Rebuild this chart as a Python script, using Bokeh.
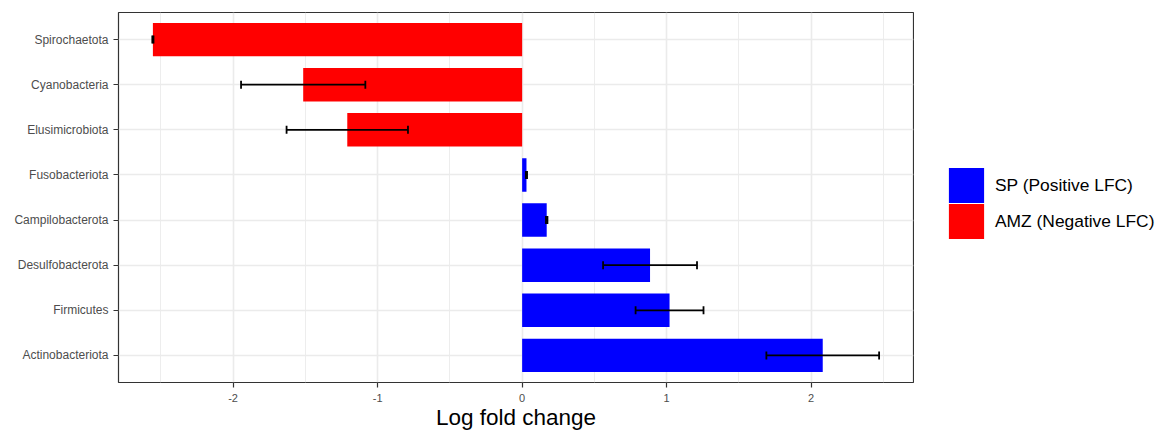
import pandas as pd
from bokeh.plotting import figure
from bokeh.layouts import row
from bokeh.models import (ColumnDataSource, FactorRange, Range1d, FixedTicker,
                          Whisker, TeeHead, Legend, LegendItem)
from bokeh.embed import file_html
from bokeh.resources import INLINE

# ---- data ----
phyla = ["Actinobacteriota", "Firmicutes", "Desulfobacterota", "Campilobacterota",
         "Fusobacteriota", "Elusimicrobiota", "Cyanobacteria", "Spirochaetota"]
lfc = [2.08, 1.02, 0.885, 0.17, 0.03, -1.21, -1.515, -2.555]
se = [0.39, 0.235, 0.325, 0.005, 0.004, 0.42, 0.43, 0.004]
groups = ["SP (Positive LFC)", "AMZ (Negative LFC)"]
group_colors = ["#0000FF", "#FF0000"]
x_ticks = [-2, -1, 0, 1, 2]
x_minor = [-2.5, -1.5, -0.5, 0.5, 1.5, 2.5]

df = pd.DataFrame({"phylum": phyla, "lfc": lfc, "se": se})
df["lower"] = df["lfc"] - df["se"]
df["upper"] = df["lfc"] + df["se"]
pos = ColumnDataSource(df[df["lfc"] > 0])
neg = ColumnDataSource(df[df["lfc"] <= 0])
allsrc = ColumnDataSource(df)

FONT = "Liberation Sans"

p = figure(width=914, height=432, output_backend="svg", toolbar_location=None,
           y_range=FactorRange(factors=phyla, range_padding=0.1, range_padding_units="absolute"),
           x_range=Range1d(-2.793, 2.708),
           min_border_left=118, min_border_right=1, min_border_top=12, min_border_bottom=50)

p.outline_line_color = "#333333"
p.outline_line_width = 1.2
p.background_fill_color = "white"
p.border_fill_color = "white"

r_pos = p.hbar(y="phylum", right="lfc", left=0, height=0.74, source=pos,
               fill_color=group_colors[0], line_color=None)
r_neg = p.hbar(y="phylum", right="lfc", left=0, height=0.74, source=neg,
               fill_color=group_colors[1], line_color=None)

wh = Whisker(base="phylum", lower="lower", upper="upper", dimension="width", source=allsrc,
             line_color="black", line_width=1.8, level="overlay",
             lower_head=TeeHead(size=8, line_color="black", line_width=1.8),
             upper_head=TeeHead(size=8, line_color="black", line_width=1.8))
p.add_layout(wh)

# grids
p.xgrid.ticker = FixedTicker(ticks=x_ticks, minor_ticks=x_minor)
p.xgrid.grid_line_color = "#ebebeb"
p.xgrid.grid_line_width = 1.6
p.xgrid.minor_grid_line_color = "#ebebeb"
p.xgrid.minor_grid_line_width = 0.9
p.ygrid.grid_line_color = "#ebebeb"
p.ygrid.grid_line_width = 1.6

# axes
p.xaxis.ticker = FixedTicker(ticks=x_ticks, minor_ticks=x_minor)
p.xaxis.major_label_overrides = {t: str(t) for t in x_ticks}
for ax in (p.xaxis[0], p.yaxis[0]):
    ax.axis_line_color = None
    ax.major_tick_line_color = "#333333"
    ax.major_tick_line_width = 1.2
    ax.major_tick_out = 5
    ax.major_tick_in = 0
    ax.minor_tick_line_color = None
    ax.major_label_text_color = "#4d4d4d"
    ax.major_label_text_font = FONT
    ax.major_label_text_font_size = "12px"
    ax.major_label_standoff = 5
p.xaxis.major_label_text_font_size = "11px"
p.xaxis.major_label_standoff = 6
p.xaxis.axis_label = "Log fold change"
p.xaxis.axis_label_text_font = FONT
p.xaxis.axis_label_text_font_size = "22.5px"
p.xaxis.axis_label_text_font_style = "normal"
p.xaxis.axis_label_text_color = "black"
p.xaxis.axis_label_standoff = 0

# ---- legend panel (separate figure to the right) ----
# its bars use a factor range that holds none of the data's factors, so they are not drawn
lp = figure(width=250, height=432, output_backend="svg", toolbar_location=None,
            x_range=Range1d(0, 1), y_range=FactorRange(factors=["legend"]),
            x_axis_location=None, y_axis_location=None,
            min_border=0, outline_line_color=None)
lp.grid.visible = False
lp.border_fill_color = "white"
l_pos = lp.hbar(y="phylum", right="lfc", left=0, height=0.74, source=pos,
                fill_color=group_colors[0], line_color=None)
l_neg = lp.hbar(y="phylum", right="lfc", left=0, height=0.74, source=neg,
                fill_color=group_colors[1], line_color=None)

common = dict(glyph_width=44, glyph_height=44, padding=0, margin=0, label_standoff=7,
              label_text_font=FONT, label_text_font_size="17.4px", label_text_color="black",
              background_fill_alpha=0, border_line_color=None)
leg1 = Legend(items=[LegendItem(label=groups[0], renderers=[l_pos])],
              location=(30, 175), **common)
leg2 = Legend(items=[LegendItem(label=groups[1], renderers=[l_neg])],
              location=(30, 139), **common)
lp.add_layout(leg1)
lp.add_layout(leg2)

layout = row(p, lp, spacing=0)
open("out.html", "w").write(file_html(layout, INLINE))
